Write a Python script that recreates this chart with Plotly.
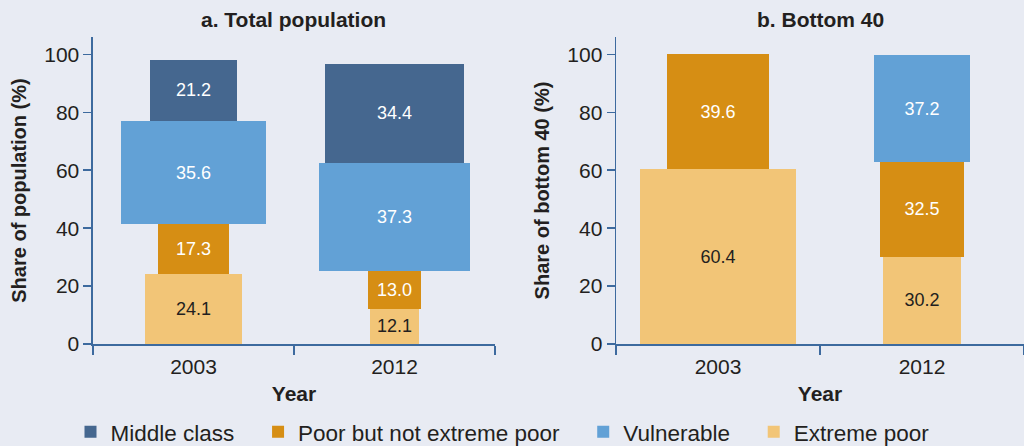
import plotly.graph_objects as go

# ---- data ----
years = ["2003", "2012"]
series = ["Extreme poor", "Poor but not extreme poor", "Vulnerable", "Middle class"]  # bottom -> top
legend_order = ["Middle class", "Poor but not extreme poor", "Vulnerable", "Extreme poor"]

total_extreme = [24.1, 12.1]
total_poor = [17.3, 13.0]
total_vuln = [35.6, 37.3]
total_middle = [21.2, 34.4]

b40_extreme = [60.4, 30.2]
b40_poor = [39.6, 32.5]
b40_vuln = [None, 37.2]
b40_middle = [None, None]

y_ticks = [0, 20, 40, 60, 80, 100]

# ---- style ----
colors = {
    "Middle class": "#45678F",
    "Poor but not extreme poor": "#D68E14",
    "Vulnerable": "#62A1D6",
    "Extreme poor": "#F2C577",
}
text_colors = {
    "Middle class": "white",
    "Poor but not extreme poor": "white",
    "Vulnerable": "white",
    "Extreme poor": "#231F20",
}
BG = "#E8EBF3"
AXIS = "#3D6A9E"
FONT = "Liberation Sans, Arial, sans-serif"
WIDTH_A = 0.0202   # bar width (category units) per percentage point, panel a
WIDTH_B = 0.0126   # panel b
PAD = "\u00a0\u00a0\u00a0"  # extra spacing after legend labels

panel_a = dict(zip(series, [total_extreme, total_poor, total_vuln, total_middle]))
panel_b = dict(zip(series, [b40_extreme, b40_poor, b40_vuln, b40_middle]))

fig = go.Figure()

def add_panel(data, scale, xa, ya, showlegend):
    for s in series:
        vals = data[s]
        fig.add_trace(go.Bar(
            x=years,
            y=vals,
            width=[(v or 0) * scale for v in vals],
            name=s + PAD,
            legendgroup=s,
            legendrank=legend_order.index(s) + 1,
            showlegend=showlegend,
            marker=dict(color=colors[s], line=dict(width=0)),
            text=["" if v is None else f"{v:.1f}" for v in vals],
            textposition="inside",
            insidetextanchor="middle",
            constraintext="none",
            textangle=0,
            textfont=dict(size=18, color=text_colors[s], family=FONT),
            hoverinfo="skip",
            xaxis=xa,
            yaxis=ya,
        ))

add_panel(panel_a, WIDTH_A, "x", "y", True)
add_panel(panel_b, WIDTH_B, "x2", "y2", False)

xcommon = dict(
    type="category",
    range=[-0.5, 1.5],
    tickson="boundaries",
    ticks="outside",
    ticklen=9,
    tickwidth=1.5,
    tickcolor=AXIS,
    showline=True,
    linecolor=AXIS,
    linewidth=1.5,
    showgrid=False,
    zeroline=False,
    automargin=False,
    ticklabelstandoff=3,
    tickfont=dict(size=21, color="#231F20", family=FONT),
)
ycommon = dict(
    range=[0, 106],
    tickvals=y_ticks,
    ticks="outside",
    ticklen=8,
    tickwidth=1.5,
    tickcolor=AXIS,
    showline=True,
    linecolor=AXIS,
    linewidth=1.5,
    showgrid=False,
    zeroline=False,
    automargin=False,
    tickfont=dict(size=21, color="#231F20", family=FONT),
)

fig.update_layout(
    width=1024,
    height=446,
    barmode="stack",
    bargap=0,
    paper_bgcolor=BG,
    plot_bgcolor=BG,
    margin=dict(l=0, r=0, t=37, b=102, autoexpand=False),
    font=dict(family=FONT, color="#231F20"),
    xaxis=dict(xcommon, domain=[0.0908, 0.4834], anchor="y",
               title=dict(text="<b>Year</b>", font=dict(size=21), standoff=9)),
    yaxis=dict(ycommon, domain=[0, 1], anchor="x",
               title=dict(text="<b>Share of population (%)</b>", font=dict(size=20), standoff=12)),
    xaxis2=dict(xcommon, domain=[0.6016, 1.0], anchor="y2",
                title=dict(text="<b>Year</b>", font=dict(size=21), standoff=9)),
    yaxis2=dict(ycommon, domain=[0, 1], anchor="x2",
                title=dict(text="<b>Share of bottom 40 (%)</b>", font=dict(size=20), standoff=12)),
    legend=dict(
        orientation="h",
        x=0.5, xanchor="center",
        yref="container",
        y=0.031, yanchor="middle",
        font=dict(size=22.5, color="#231F20", family=FONT),
        traceorder="normal",
        itemclick=False,
        itemdoubleclick=False,
    ),
    annotations=[
        dict(text="<b>a. Total population</b>", x=0.287, y=1.0586, xref="paper", yref="paper",
             xanchor="center", yanchor="middle", showarrow=False, font=dict(size=21, color="#231F20")),
        dict(text="<b>b. Bottom 40</b>", x=0.801, y=1.0586, xref="paper", yref="paper",
             xanchor="center", yanchor="middle", showarrow=False, font=dict(size=21, color="#231F20")),
    ],
)

fig.write_html(
    "out.html",
    config={"displayModeBar": False, "staticPlot": True},
    post_script="document.body.style.margin='0';document.body.style.overflow='hidden';",
)
